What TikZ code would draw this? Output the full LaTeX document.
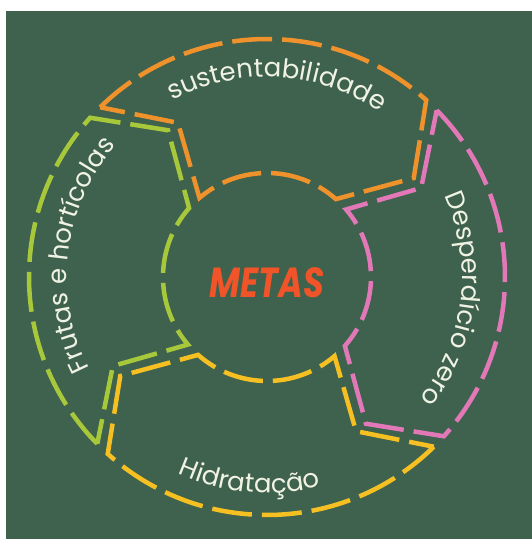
\documentclass[tikz,border=0pt]{standalone}
\usepackage{fontspec}
\setmainfont{Poppins}
\usetikzlibrary{decorations.text}

\definecolor{board}{RGB}{62,98,77}
\definecolor{chalk}{RGB}{240,242,228}
\definecolor{orangeseg}{RGB}{240,146,44}
\definecolor{pinkseg}{RGB}{226,120,184}
\definecolor{yellowseg}{RGB}{246,192,34}
\definecolor{limeseg}{RGB}{168,200,60}
\definecolor{metasred}{RGB}{240,84,40}

\newcommand{\arctext}{\fontsize{26}{30}\selectfont\color{chalk}}

\begin{document}
\begin{tikzpicture}[x=1pt,y=1pt,
	seg/.style={line width=4.5pt,dash pattern=on 40pt off 10pt}]
	
	\useasboundingbox (-267,-262) rectangle (265,277);
	\fill[white] (-267,-262) rectangle (265,277);
	\fill[board] (-261,-262) rectangle (265,266);
	
	% the four pieces of the ring
	\draw[seg,orangeseg] (134.5:238) arc[start angle=134.5,end angle=48,radius=238] -- (34:177) -- (48.5:104) arc[start angle=48.5,end angle=130.5,radius=104] -- (120:178) -- cycle;
	
	\draw[seg,pinkseg] (44.5:238) arc[start angle=44.5,end angle=-42,radius=238] -- (-56:177) -- (-41.5:104) arc[start angle=-41.5,end angle=40.5,radius=104] -- (30:178) -- cycle;
	
	\draw[seg,yellowseg] (-45.5:238) arc[start angle=-45.5,end angle=-132,radius=238] -- (-146:177) -- (-131.5:104) arc[start angle=-131.5,end angle=-49.5,radius=104] -- (-60:178) -- cycle;
	
	\draw[seg,limeseg] (224.5:238) arc[start angle=224.5,end angle=138,radius=238] -- (124:177) -- (138.5:104) arc[start angle=138.5,end angle=220.5,radius=104] -- (210:178) -- cycle;
	
	% labels along the ring
	\path[decorate,decoration={text along path,text align=center,text={|\arctext|sustentabilidade}}] (157:200) arc[start angle=157,end angle=17,radius=200];
	
	\path[decorate,decoration={text along path,text align=center,text={|\arctext|Desperdício zero}}] (63:195) arc[start angle=63,end angle=-77,radius=195];
	
	\path[decorate,decoration={text along path,text align=center,text={|\arctext|Hidratação}}] (205:216) arc[start angle=205,end angle=325,radius=216];
	
	\path[decorate,decoration={text along path,text align=center,text={|\arctext|Frutas e hortícolas}}] (243:200) arc[start angle=243,end angle=103,radius=200];
	
	\node[font=\fontsize{42}{42}\selectfont\bfseries\itshape,text=metasred,xscale=0.8] (m) at (0,-6) {METAS};
	
\end{tikzpicture}
\end{document}
